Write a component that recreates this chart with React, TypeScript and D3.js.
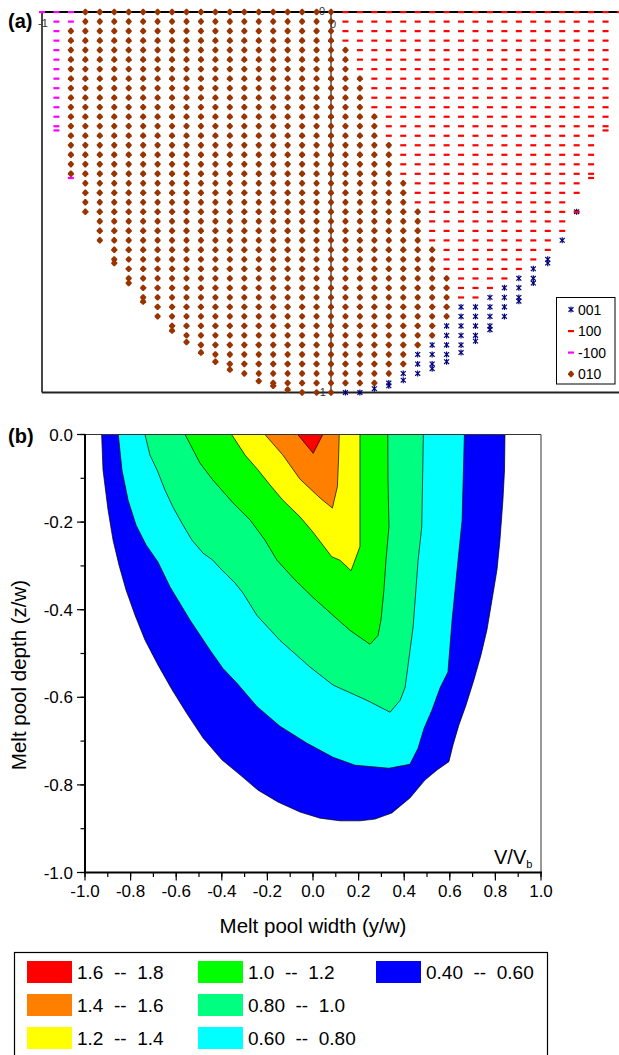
import React from 'react';
import * as d3 from 'd3';

// ---------- Panel (a): crystal orientation map ----------
// Each row (z/w = -0.025 * row) encoded run-length over 41 columns (y/w = -1 + 0.05 * col)
// '.' none, 'M' = -100, 'D' = 010, 'R' = 100, 'A' = 001
const ORIENT_ROWS: string[] = [
  '3M18D20R',
  '1.2M18D19R1.',
  '1.1M19D19R1.',
  '1.1M19D19R1.',
  '1.1M20D18R1.',
  '1.1M20D18R1.',
  '1.1M20D18R1.',
  '1.1M21D17R1.',
  '1.1M21D17R1.',
  '1.1M21D17R1.',
  '1.1M21D17R1.',
  '1.1M22D16R1.',
  '1.1M22D16R1.',
  '2.22D15R2.',
  '2.23D14R2.',
  '2.23D14R2.',
  '2.23D14R2.',
  '2.23D14R2.',
  '3.23D12R3.',
  '3.23D12R3.',
  '3.23D11R4.',
  '3.24D10R1A3.',
  '4.23D10R4.',
  '4.23D10R4.',
  '4.23D9R1A4.',
  '5.23D8R5.',
  '5.23D7R1A5.',
  '6.22D6R1A6.',
  '6.23D4R2A6.',
  '7.22D3R2A7.',
  '7.22D2R3A7.',
  '8.21D4A8.',
  '8.21D4A8.',
  '9.19D4A9.',
  '10.18D3A10.',
  '11.16D3A11.',
  '12.14D3A12.',
  '13.13D2A13.',
  '14.11D2A14.',
  '16.8D1A16.',
  '18.3D2A18.',
];

// off-grid points [y/w, z/w, code]
const EXTRA_POINTS: [number, number, string][] = [
  [-0.95, -0.311, 'M'], [-0.9, -0.436, 'M'],
  [-0.75, -0.66, 'D'], [-0.7, -0.7125, 'D'], [-0.65, -0.761, 'D'], [-0.55, -0.8375, 'D'],
  [-0.5, -0.8675, 'D'], [-0.45, -0.895, 'D'], [-0.4, -0.919, 'D'], [-0.35, -0.94, 'D'],
  [-0.25, -0.97, 'D'], [-0.2, -0.9825, 'D'], [-0.15, -0.9925, 'D'],
  [0.75, -0.66, 'A'], [0.7, -0.7125, 'A'], [0.65, -0.76, 'A'], [0.55, -0.835, 'A'],
  [0.5, -0.865, 'A'], [0.45, -0.895, 'A'], [0.4, -0.919, 'A'], [0.35, -0.9375, 'A'],
  [0.25, -0.9675, 'A'], [0.2, -0.9825, 'A'], [0.15, -0.99, 'A'],
  [0.95, -0.311, 'R'], [0.9, -0.436, 'R'], [0.85, -0.525, 'R'],
];

const ORIENT_CODES = ['A', 'R', 'M', 'D'];
const ORIENT_LABELS = ['001', '100', '-100', '010'];

// ---------- Panel (b): velocity contours (V/Vb) ----------
const LEVEL_COLORS = ['#0000ff', '#00ffff', '#00ff80', '#00ff00', '#ffff00', '#ff8000', '#ff0000'];

const C040: [number, number][] = [
  [-0.927, 0], [-0.921, -0.081], [-0.899, -0.172], [-0.877, -0.241], [-0.851, -0.298],
  [-0.82, -0.355], [-0.781, -0.412], [-0.737, -0.469], [-0.68, -0.526], [-0.618, -0.583],
  [-0.557, -0.634], [-0.482, -0.693], [-0.399, -0.743], [-0.32, -0.777], [-0.241, -0.812],
  [-0.154, -0.839], [-0.057, -0.862], [0.031, -0.876], [0.118, -0.882], [0.206, -0.882],
  [0.272, -0.878], [0.346, -0.864], [0.425, -0.83], [0.491, -0.789], [0.544, -0.766],
  [0.596, -0.747], [0.614, -0.709], [0.64, -0.663], [0.671, -0.618], [0.706, -0.56],
  [0.737, -0.503], [0.763, -0.446], [0.785, -0.378], [0.807, -0.309], [0.82, -0.241],
  [0.833, -0.15], [0.84, -0.081], [0.842, 0],
];
const C060: [number, number][] = [
  [-0.854, 0], [-0.838, -0.081], [-0.811, -0.15], [-0.776, -0.207], [-0.732, -0.252],
  [-0.68, -0.291], [-0.627, -0.348], [-0.539, -0.424], [-0.452, -0.492], [-0.395, -0.534],
  [-0.333, -0.568], [-0.246, -0.621], [-0.145, -0.666], [-0.026, -0.705], [0.088, -0.737],
  [0.184, -0.755], [0.333, -0.762], [0.425, -0.753], [0.461, -0.716], [0.487, -0.671],
  [0.522, -0.629], [0.557, -0.579], [0.592, -0.542], [0.61, -0.424], [0.632, -0.309],
  [0.654, -0.195], [0.664, 0],
];
const C080: [number, number][] = [
  [-0.737, 0], [-0.715, -0.047], [-0.684, -0.081], [-0.649, -0.127], [-0.614, -0.166],
  [-0.57, -0.207], [-0.531, -0.241], [-0.482, -0.271], [-0.439, -0.287], [-0.408, -0.305],
  [-0.342, -0.339], [-0.307, -0.362], [-0.246, -0.413], [-0.145, -0.47], [-0.013, -0.531],
  [0.088, -0.572], [0.237, -0.607], [0.338, -0.634], [0.382, -0.607], [0.404, -0.577],
  [0.439, -0.44], [0.461, -0.287], [0.477, -0.211], [0.484, 0],
];
const C100: [number, number][] = [
  [-0.561, 0], [-0.496, -0.065], [-0.439, -0.104], [-0.351, -0.156], [-0.276, -0.195],
  [-0.211, -0.241], [-0.158, -0.287], [-0.079, -0.332], [0, -0.372], [0.088, -0.413],
  [0.162, -0.447], [0.25, -0.479], [0.285, -0.459], [0.298, -0.424], [0.311, -0.355],
  [0.32, -0.287], [0.333, -0.211], [0.329, -0.104], [0.328, 0],
];
const C120: [number, number][] = [
  [-0.357, 0], [-0.298, -0.047], [-0.241, -0.081], [-0.189, -0.115], [-0.132, -0.15],
  [-0.057, -0.188], [0, -0.223], [0.082, -0.279], [0.118, -0.287], [0.167, -0.311],
  [0.206, -0.256], [0.206, -0.15], [0.206, 0],
];
const C140: [number, number][] = [
  [-0.211, 0], [-0.132, -0.047], [-0.057, -0.102], [0.031, -0.145], [0.085, -0.168],
  [0.107, -0.119], [0.112, -0.058], [0.115, 0],
];
const C160: [number, number][] = [[-0.067, 0], [0.001, -0.043], [0.043, 0]];
const CONTOURS = [C040, C060, C080, C100, C120, C140, C160];

const BAND_LABELS = [
  ['1.6', '1.8'], ['1.4', '1.6'], ['1.2', '1.4'],
  ['1.0', '1.2'], ['0.80', '1.0'], ['0.60', '0.80'],
  ['0.40', '0.60'],
];
const BAND_COLORS = ['#ff0000', '#ff8000', '#ffff00', '#00ff00', '#00ff80', '#00ffff', '#0000ff'];

const FONT = 'Liberation Sans, Arial, Helvetica, sans-serif';

function parseRow(s: string): string[] {
  const out: string[] = [];
  const re = /(\d+)([.MDRA])/g;
  let m: RegExpExecArray | null;
  while ((m = re.exec(s))) {
    for (let i = 0; i < +m[1]; i++) out.push(m[2]);
  }
  return out;
}

function Marker({ code, x, y }: { code: string; x: number; y: number }) {
  const t = `translate(${x},${y})`;
  if (code === 'D')
    return (
      <path
        transform={t}
        d="M-0.6,-3.2L0.6,-3.2L3,-0.6L3,0.6L0.6,3.2L-0.6,3.2L-3,0.6L-3,-0.6Z"
        fill="#993300"
      />
    );
  if (code === 'R') return <rect transform={t} x={-3} y={-1} width={6} height={2.2} fill="#ff0000" />;
  if (code === 'M') return <rect transform={t} x={-3} y={-1} width={6} height={2.2} fill="#ff00ff" />;
  if (code === 'A')
    return (
      <g transform={t} stroke="#00007a" strokeWidth={1.2}>
        <line x1={0} y1={-3} x2={0} y2={3} />
        <line x1={-2.5} y1={-2.3} x2={2.5} y2={2.3} />
        <line x1={-2.5} y1={2.3} x2={2.5} y2={-2.3} />
      </g>
    );
  return null;
}

const fmt = (v: number) => (Math.abs(v) < 1e-9 ? '0.0' : v.toFixed(1));

export default function App() {
  // panel a scales
  const xA = d3.scaleLinear().domain([-1, 1]).range([42, 620]);
  const yA = d3.scaleLinear().domain([0, -1]).range([12, 392.5]);

  const pts: { x: number; z: number; code: string }[] = [];
  ORIENT_ROWS.forEach((r, ri) => {
    parseRow(r).forEach((c, ci) => {
      if (c !== '.') pts.push({ x: -1 + 0.05 * ci, z: -0.025 * ri, code: c });
    });
  });
  EXTRA_POINTS.forEach(([x, z, code]) => pts.push({ x, z, code }));
  const order = { D: 0, M: 1, A: 2, R: 3 } as Record<string, number>;
  pts.sort((a, b) => order[a.code] - order[b.code]);

  // panel b scales
  const xB = d3.scaleLinear().domain([-1, 1]).range([85, 541]);
  const yB = d3.scaleLinear().domain([0, -1]).range([434.5, 872.5]);
  const line = d3
    .line<[number, number]>()
    .x((d) => xB(d[0]))
    .y((d) => yB(d[1]));

  const xMajor = xB.ticks(10);
  const xMinor = xB.ticks(20);
  const yMajor = yB.ticks(5);
  const yMinor = yB.ticks(10);

  const legCols = [27, 198, 376];
  const legRows = [961, 994, 1027];

  return (
    <svg
      width={619}
      height={1055}
      style={{ position: 'absolute', left: 0, top: 0, background: '#fff' }}
      fontFamily={FONT}
    >
      {/* ---------- Panel (a) ---------- */}
      <text x={8} y={28} fontSize={20} fontWeight="bold">(a)</text>
      <line x1={xA(-1)} y1={yA(0)} x2={619} y2={yA(0)} stroke="#000" strokeWidth={2} />
      <line x1={xA(-1)} y1={yA(-1)} x2={619} y2={yA(-1)} stroke="#222" strokeWidth={2} />
      <line x1={xA(-1)} y1={yA(0)} x2={xA(-1)} y2={yA(-1)} stroke="#333" strokeWidth={1.8} />
      <line x1={xA(0)} y1={yA(0)} x2={xA(0)} y2={yA(-1)} stroke="#000" strokeWidth={1} />
      {pts.map((p, i) => (
        <Marker key={i} code={p.code} x={xA(p.x)} y={yA(p.z)} />
      ))}
      <text x={xA(-1) + 1} y={27} fontSize={11} textAnchor="middle" fill="#333">-1</text>
      <text x={xA(0) - 9} y={15} fontSize={11} textAnchor="middle" fill="#333">0</text>
      <text x={xA(0) + 2} y={28} fontSize={11} textAnchor="middle" fill="#333">0</text>
      <text x={xA(0) - 10} y={396} fontSize={11} textAnchor="middle" fill="#333">-1</text>
      {/* legend (a) */}
      <rect x={556.5} y={297.5} width={58.5} height={86.5} fill="#fff" stroke="#000" strokeWidth={1} />
      {ORIENT_CODES.map((c, i) => {
        const cy = 309.5 + i * 21.5;
        return (
          <g key={c}>
            <Marker code={c} x={571} y={cy} />
            <text x={578} y={cy + 5} fontSize={14}>{ORIENT_LABELS[i]}</text>
          </g>
        );
      })}

      {/* ---------- Panel (b) ---------- */}
      <text x={8} y={443} fontSize={20} fontWeight="bold">(b)</text>
      {CONTOURS.map((c, i) => (
        <path
          key={i}
          d={line(c) + 'Z'}
          fill={LEVEL_COLORS[i]}
          stroke="#000"
          strokeWidth={0.7}
          strokeLinejoin="round"
        />
      ))}
      {/* frame */}
      <line x1={85} y1={yB(0)} x2={xB(1)} y2={yB(0)} stroke="#333" strokeWidth={1} />
      <line x1={xB(1)} y1={yB(0)} x2={xB(1)} y2={yB(-1)} stroke="#333" strokeWidth={1} />
      <line x1={xB(-1)} y1={yB(0) - 0.5} x2={xB(-1)} y2={yB(-1) + 1} stroke="#000" strokeWidth={2} />
      <line x1={xB(-1) - 1} y1={yB(-1)} x2={xB(1) + 1} y2={yB(-1)} stroke="#000" strokeWidth={2} />
      {/* x ticks */}
      {xMinor.map((t, i) => (
        <line key={'xm' + i} x1={xB(t)} x2={xB(t)} y1={yB(-1)} y2={yB(-1) + 4.5} stroke="#000" strokeWidth={1.2} />
      ))}
      {xMajor.map((t, i) => (
        <g key={'xM' + i}>
          <line x1={xB(t)} x2={xB(t)} y1={yB(-1)} y2={yB(-1) + 8} stroke="#000" strokeWidth={1.2} />
          <text x={xB(t)} y={897} fontSize={17} textAnchor="middle">{fmt(t)}</text>
        </g>
      ))}
      {/* y ticks */}
      {yMinor.map((t, i) => (
        <line key={'ym' + i} x1={xB(-1) - 4.5} x2={xB(-1)} y1={yB(t)} y2={yB(t)} stroke="#000" strokeWidth={1.2} />
      ))}
      {yMajor.map((t, i) => (
        <g key={'yM' + i}>
          <line x1={xB(-1) - 8} x2={xB(-1)} y1={yB(t)} y2={yB(t)} stroke="#000" strokeWidth={1.2} />
          <text x={73} y={yB(t) + 6} fontSize={17} textAnchor="end">{fmt(t)}</text>
        </g>
      ))}
      <text x={313} y={933} fontSize={20.5} textAnchor="middle">Melt pool width (y/w)</text>
      <text transform="translate(26,675) rotate(-90)" fontSize={20.5} textAnchor="middle">
        Melt pool depth (z/w)
      </text>
      <text x={494} y={864} fontSize={20}>
        V/V<tspan fontSize={11} dy={4}>b</tspan>
      </text>

      {/* legend (b) */}
      <rect x={14.5} y={952.5} width={533} height={120} fill="#fff" stroke="#000" strokeWidth={1.2} />
      {BAND_LABELS.map((lab, i) => {
        const col = Math.floor(i / 3);
        const row = i % 3;
        const x = legCols[col];
        const y = legRows[row];
        return (
          <g key={i}>
            <rect x={x} y={y} width={45} height={22} fill={BAND_COLORS[i]} />
            <text x={x + 50} y={y + 18} fontSize={19} style={{ whiteSpace: 'pre' }}>
              {`${lab[0]}  --  ${lab[1]}`}
            </text>
          </g>
        );
      })}
    </svg>
  );
}
